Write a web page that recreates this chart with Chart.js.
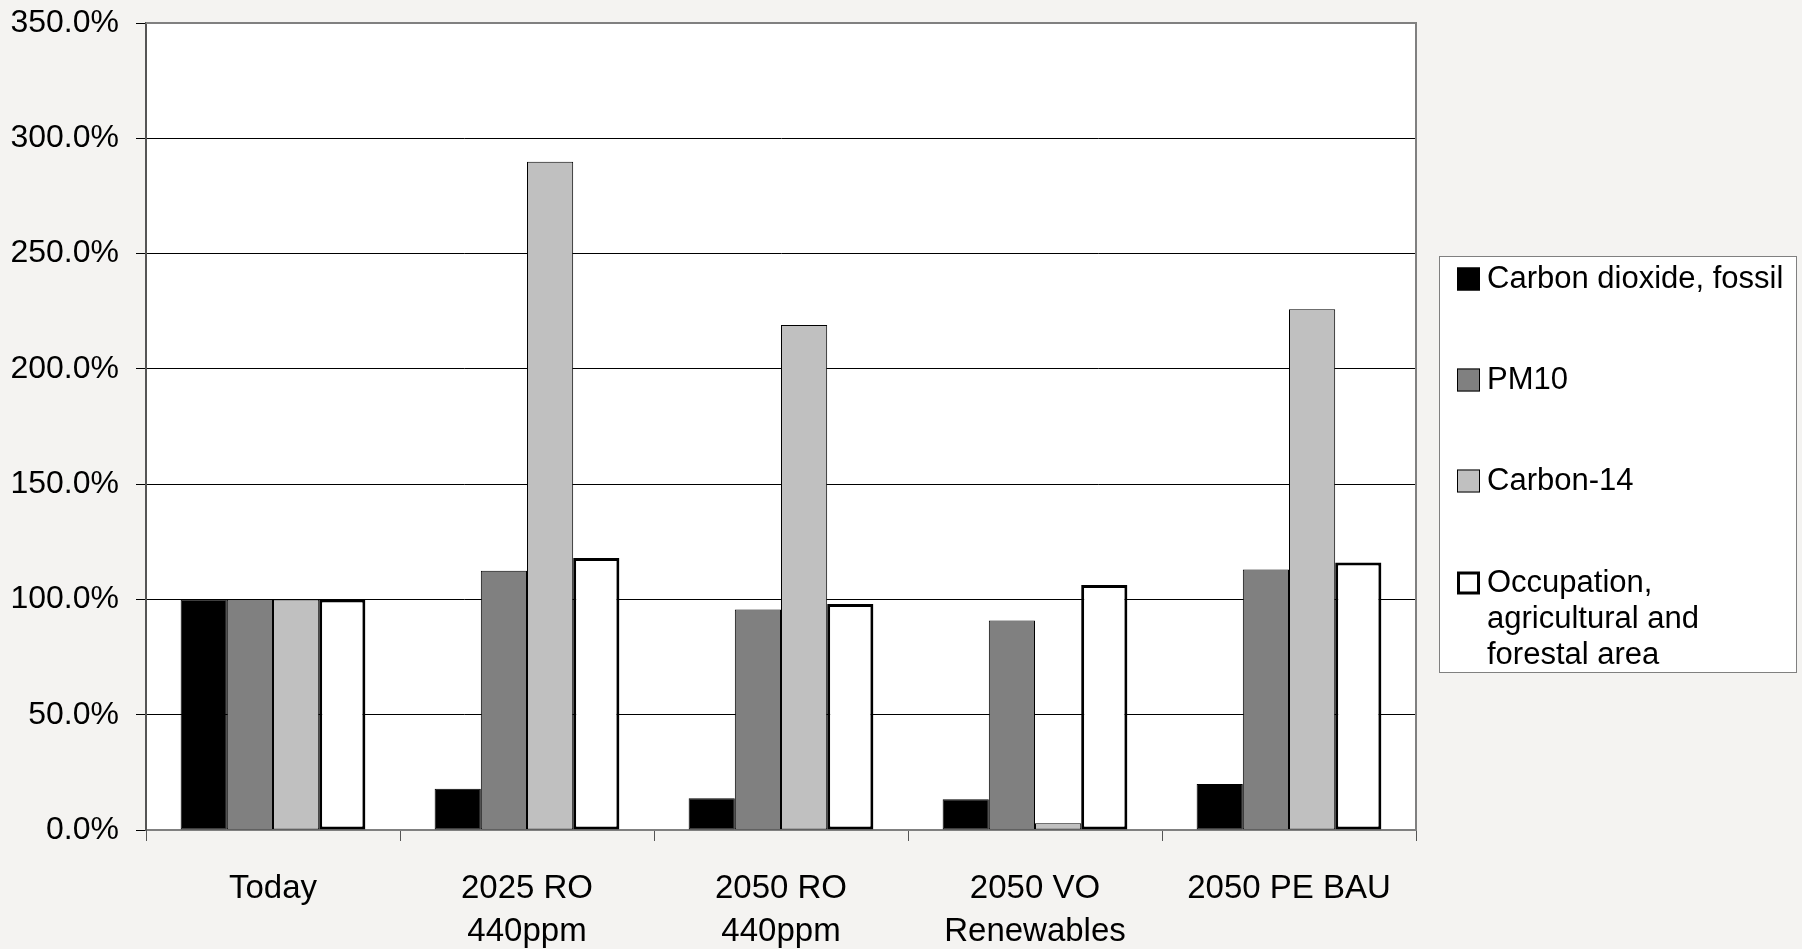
<!DOCTYPE html>
<html>
<head>
<meta charset="utf-8">
<script src="https://cdn.jsdelivr.net/npm/chart.js@4.4.1/dist/chart.umd.min.js"></script>
<style>
  html, body { margin: 0; padding: 0; background: #F4F3F1; }
  #wrap { width: 1802px; height: 949px; position: relative; }
</style>
</head>
<body>
<div id="wrap"><canvas id="c" width="1802" height="949"></canvas></div>
<script>
// ---- data ----
const categories = ['Today', ['2025 RO', '440ppm'], ['2050 RO', '440ppm'], ['2050 VO', 'Renewables'], '2050 PE BAU'];
const seriesNames = ['Carbon dioxide, fossil', 'PM10', 'Carbon-14', 'Occupation, agricultural and forestal area'];
const co2Fossil = [100, 17.9, 13.8, 13.3, 19.9];
const pm10 = [100, 112.4, 95.6, 90.9, 113.0];
const carbon14 = [100, 289.8, 219.0, 2.9, 225.9];
const occupation = [100, 118.0, 98.0, 106.3, 116.0];
const yTicks = [0, 50, 100, 150, 200, 250, 300, 350];

// ---- styles ----
const fills = ['#000000', '#808080', '#C0C0C0', '#FFFFFF'];
const borderWidths = [1, 1, 1, 3];
const FONT = '"Liberation Sans", Arial, sans-serif';

const bgPlugin = {
  id: 'bg',
  beforeDraw(chart) {
    const { ctx, chartArea: a } = chart;
    ctx.save();
    ctx.fillStyle = '#F4F3F1';
    ctx.fillRect(0, 0, chart.width, chart.height);
    ctx.fillStyle = '#FFFFFF';
    ctx.fillRect(a.left, a.top, a.right - a.left, a.bottom - a.top);
    ctx.restore();
  },
  afterDraw(chart) {
    const { ctx, chartArea: a } = chart;
    ctx.save();
    ctx.strokeStyle = '#808080';
    ctx.lineWidth = 2;
    ctx.beginPath();
    ctx.moveTo(a.left, a.top);
    ctx.lineTo(a.right, a.top);
    ctx.lineTo(a.right, a.bottom);
    ctx.stroke();
    ctx.restore();
  }
};

const legendPlugin = {
  id: 'boxLegend',
  afterDraw(chart) {
    const ctx = chart.ctx;
    const box = { x: 1439.5, y: 256.5, w: 357, h: 416 };
    ctx.save();
    ctx.fillStyle = '#FFFFFF';
    ctx.fillRect(box.x, box.y, box.w, box.h);
    ctx.strokeStyle = '#808080';
    ctx.lineWidth = 1;
    ctx.strokeRect(box.x, box.y, box.w, box.h);
    ctx.font = '31px ' + FONT;
    ctx.textBaseline = 'middle';
    ctx.fillStyle = '#000';
    const itemY = [279, 380, 481, 583];
    const textX = 1487, swX = 1457, sw = 23, lineH = 36, maxW = 298;
    chart.data.datasets.forEach((ds, i) => {
      const y = itemY[i];
      ctx.fillStyle = ds.backgroundColor;
      ctx.fillRect(swX, y - sw / 2, sw, sw);
      ctx.strokeStyle = '#000';
      const bw = ds.borderWidth;
      ctx.lineWidth = bw;
      ctx.strokeRect(swX + bw / 2, y - sw / 2 + bw / 2, sw - bw, sw - bw);
      ctx.fillStyle = '#000';
      const words = ds.label.split(' ');
      let line = '', ly = y;
      words.forEach(w => {
        const test = line ? line + ' ' + w : w;
        if (ctx.measureText(test).width > maxW && line) {
          ctx.fillText(line, textX, ly);
          line = w; ly += lineH;
        } else line = test;
      });
      ctx.fillText(line, textX, ly);
    });
    ctx.restore();
  }
};

const seriesData = [co2Fossil, pm10, carbon14, occupation];

new Chart(document.getElementById('c'), {
  type: 'bar',
  data: {
    labels: categories,
    datasets: seriesData.map((d, i) => ({
      label: seriesNames[i],
      data: d,
      backgroundColor: fills[i],
      borderColor: '#000000',
      borderWidth: borderWidths[i],
      borderSkipped: false,
      categoryPercentage: 4 / 5.5,
      barPercentage: 1.0
    }))
  },
  options: {
    responsive: false,
    animation: false,
    devicePixelRatio: 1,
    layout: { padding: { left: 0, right: 386, top: 23, bottom: 0 } },
    plugins: { legend: { display: false }, tooltip: { enabled: false } },
    scales: {
      x: {
        grid: { drawOnChartArea: false, drawTicks: true, tickLength: 11, color: '#555555', lineWidth: 1, offset: true },
        border: { display: true, color: '#808080', width: 2 },
        ticks: { color: '#000', font: { family: FONT, size: 33, lineHeight: 1.32 }, padding: 26, maxRotation: 0, autoSkip: false },
        afterFit(scale) { scale.height = 119; }
      },
      y: {
        min: 0, max: 350,
        afterBuildTicks(scale) { scale.ticks = yTicks.map(v => ({ value: v })); },
        grid: { color: '#000000', lineWidth: 1, tickLength: 10, drawTicks: true },
        border: { display: true, color: '#555555', width: 2 },
        ticks: { color: '#000', font: { family: FONT, size: 32 }, padding: 17,
                 callback: v => v.toFixed(1) + '%' },
        afterFit(scale) { scale.width = 146; scale.paddingTop = 0; scale.paddingBottom = 0; }
      }
    }
  },
  plugins: [bgPlugin, legendPlugin]
});
</script>
</body>
</html>
